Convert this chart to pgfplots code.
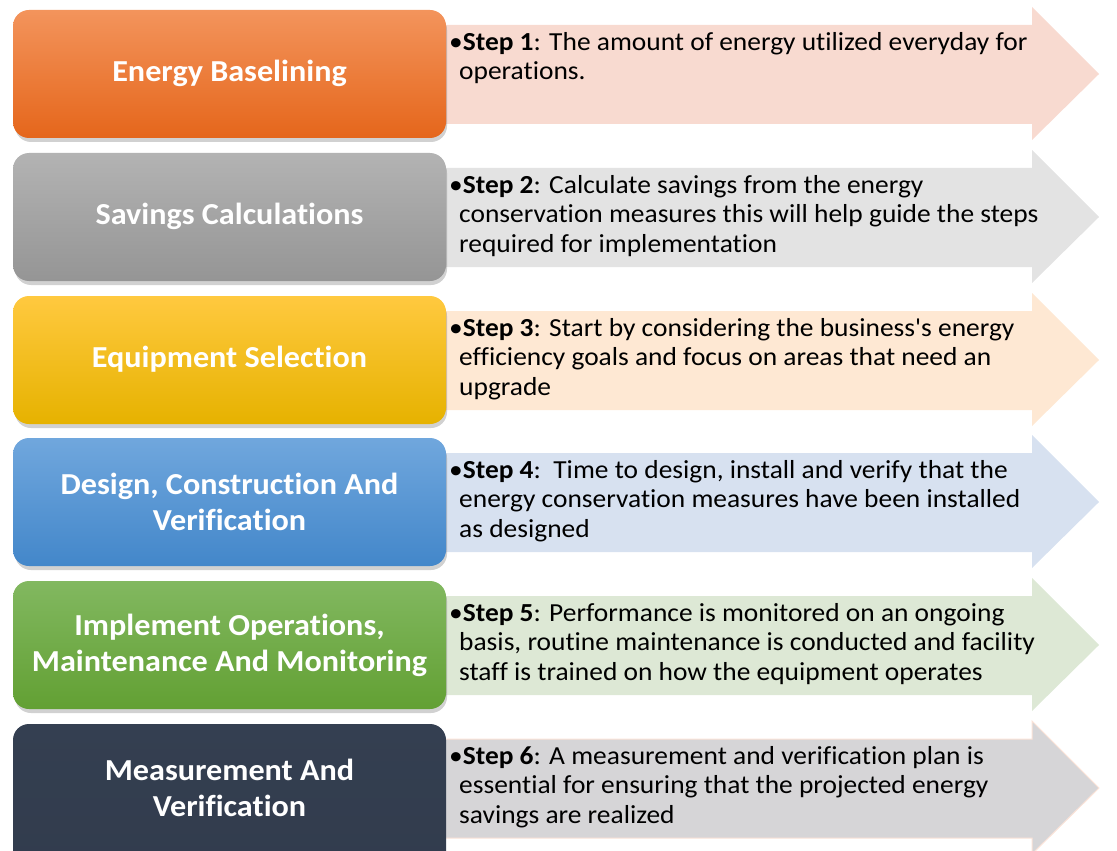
\documentclass[border=0pt]{standalone}
\usepackage{pgfplots}
\pgfplotsset{compat=1.18}
\usepackage{fontspec}
\setmainfont{Carlito}[FakeStretch=1.055, Ligatures=NoCommon]
\newfontfamily\plainfont{Carlito}[FakeStretch=1.055]
\newcommand{\bul}{\hspace*{-10bp}•}
\definecolor{o1}{HTML}{F3945C}\definecolor{o2}{HTML}{E5661B}
\definecolor{g1}{HTML}{B3B3B3}\definecolor{g2}{HTML}{959595}
\definecolor{y1}{HTML}{FFC93F}\definecolor{y2}{HTML}{E6B200}
\definecolor{b1}{HTML}{70A7DD}\definecolor{b2}{HTML}{4387CA}
\definecolor{v1}{HTML}{82B860}\definecolor{v2}{HTML}{62A033}
\definecolor{d1}{HTML}{343F51}\definecolor{d2}{HTML}{323C4D}
\definecolor{a1}{HTML}{F8DAD0}
\definecolor{a2}{HTML}{E3E3E3}
\definecolor{a3}{HTML}{FEE8D3}
\definecolor{a4}{HTML}{D7E1F0}
\definecolor{a5}{HTML}{DDE8D5}
\definecolor{a6}{HTML}{D6D5D7}
\definecolor{a6e}{HTML}{FBE3D8}
\tikzset{
  body/.style={anchor=north west, inner sep=0pt, align=left, text=black,
     font=\fontsize{26bp}{29.7bp}\selectfont},
  lab/.style={anchor=center, inner sep=0pt, align=center, text=white,
     font=\fontsize{30.5bp}{36bp}\selectfont\bfseries},
  shad/.style={draw=none, fill=black, fill opacity=0.18, rounded corners=16bp},
  bx/.style={draw=none, rounded corners=16bp},
}
\begin{document}
\begin{tikzpicture}
\begin{axis}[
  width=1117bp, height=851bp, scale only axis,
  xmin=0, xmax=1117, ymin=0, ymax=851, y dir=reverse,
  hide axis, clip=true,
]
% ---------- arrows ----------
\addplot[draw=none, fill=a1] coordinates {(435,25) (1032,25) (1032,7) (1099,74) (1032,140) (1032,124) (435,124)} -- cycle;
\addplot[draw=none, fill=a2] coordinates {(435,168) (1032,168) (1032,150) (1099,217) (1032,283) (1032,267) (435,267)} -- cycle;
\addplot[draw=none, fill=a3] coordinates {(435,311) (1032,311) (1032,293) (1099,360) (1032,426) (1032,410) (435,410)} -- cycle;
\addplot[draw=none, fill=a4] coordinates {(435,453) (1032,453) (1032,435) (1099,502) (1032,568) (1032,552) (435,552)} -- cycle;
\addplot[draw=none, fill=a5] coordinates {(435,596) (1032,596) (1032,578) (1099,645) (1032,711) (1032,695) (435,695)} -- cycle;
\addplot[draw=a6e, line width=1bp, fill=a6] coordinates {(435,739) (1032,739) (1032,721) (1099,788) (1032,854) (1032,838) (435,838)} -- cycle;
% ---------- shadows ----------
\addplot[shad] coordinates {(15,14) (447,14) (447,142) (15,142)} -- cycle;
\addplot[shad] coordinates {(15,157) (447,157) (447,285) (15,285)} -- cycle;
\addplot[shad] coordinates {(15,300) (447,300) (447,428) (15,428)} -- cycle;
\addplot[shad] coordinates {(15,442) (447,442) (447,570) (15,570)} -- cycle;
\addplot[shad] coordinates {(15,585) (447,585) (447,713) (15,713)} -- cycle;
% ---------- boxes ----------
\addplot[bx, top color=o1, bottom color=o2] coordinates {(13,10) (446,10) (446,138) (13,138)} -- cycle;
\addplot[bx, top color=g1, bottom color=g2] coordinates {(13,153) (446,153) (446,281) (13,281)} -- cycle;
\addplot[bx, top color=y1, bottom color=y2] coordinates {(13,296) (446,296) (446,424) (13,424)} -- cycle;
\addplot[bx, top color=b1, bottom color=b2] coordinates {(13,438) (446,438) (446,566) (13,566)} -- cycle;
\addplot[bx, top color=v1, bottom color=v2] coordinates {(13,581) (446,581) (446,709) (13,709)} -- cycle;
\addplot[bx, top color=d1, bottom color=d2] coordinates {(13,724) (446,724) (446,870) (13,870)} -- cycle;
% ---------- box labels ----------
\node[lab] at (axis cs:229.5,73) {Energy Baselining};
\node[lab] at (axis cs:229.5,216) {Savings Calculations};
\node[lab] at (axis cs:229.5,359) {Equipment Selection};
\node[lab] at (axis cs:229.5,502) {Design, Construction And\\Verification};
\node[lab] at (axis cs:229.5,645) {Implement Operations,\\Maintenance And Monitoring};
\node[lab] at (axis cs:229.5,788) {Measurement And\\Verification};
% ---------- step texts ----------
\node[body] at (axis cs:459,32) {\bul\textbf{Step 1}: The amount of energy utilized everyday for\\ operations.};
\node[body] at (axis cs:459,175) {\bul\textbf{Step 2}: Calculate savings from the energy\\ conservation measures this will help guide the steps\\ required for implementation};
\node[body] at (axis cs:459,318) {\bul\textbf{Step 3}: Start by considering the business{\plainfont'}s energy\\ efficiency goals and focus on areas that need an\\ upgrade};
\node[body] at (axis cs:459,460) {\bul\textbf{Step 4}:\ \ Time to design, install and verify that the\\ energy conservation measures have been installed\\ as designed};
\node[body] at (axis cs:459,603) {\bul\textbf{Step 5}: Performance is monitored on an ongoing\\ basis, routine maintenance is conducted and facility\\ staff is trained on how the equipment operates};
\node[body] at (axis cs:459,746) {\bul\textbf{Step 6}: A measurement and verification plan is\\ essential for ensuring that the projected energy\\ savings are realized};
\end{axis}
\pgfresetboundingbox
\useasboundingbox (current axis.south west) rectangle (current axis.north east);
\end{tikzpicture}
\end{document}
